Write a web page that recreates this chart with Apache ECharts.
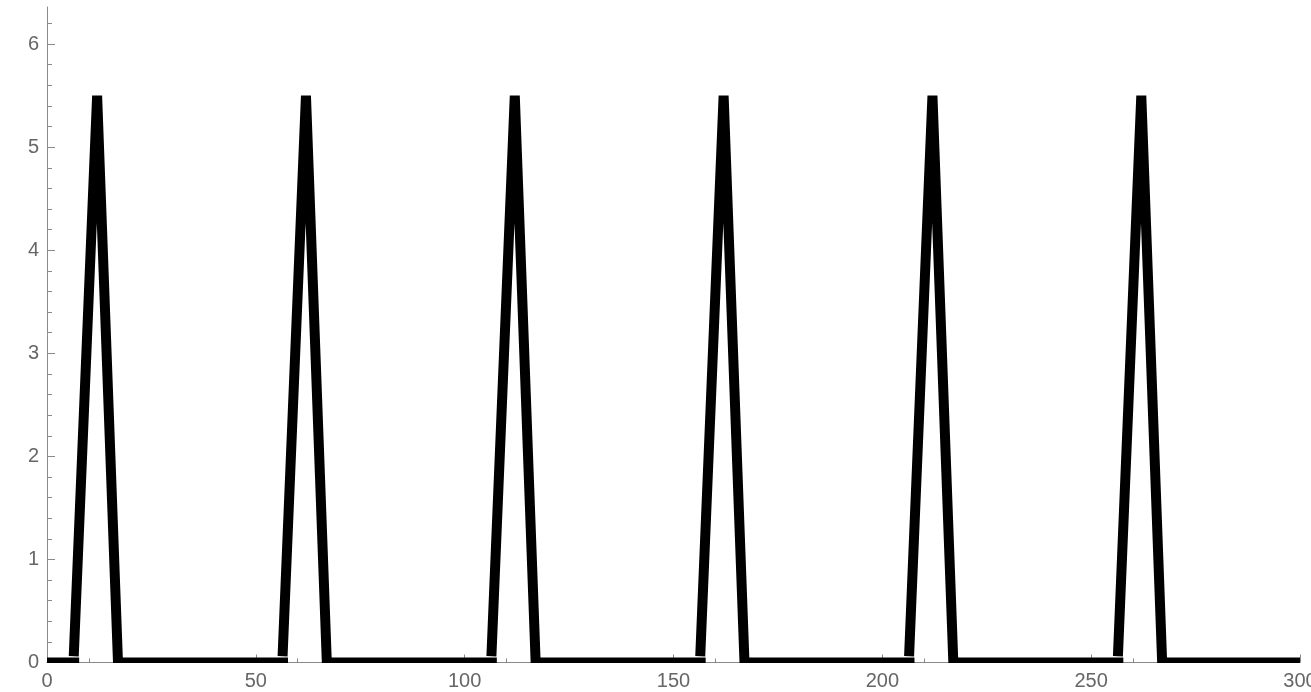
<!DOCTYPE html>
<html>
<head>
<meta charset="utf-8">
<script src="https://cdn.jsdelivr.net/npm/echarts@6/dist/echarts.min.js"></script>
<style>
html,body{margin:0;padding:0;background:#fff;}
#c{width:1311px;height:692px;}
</style>
</head>
<body>
<div id="c"></div>
<script>
// Data (one pulse per period)
var peakX = [12, 62, 112, 162, 212, 262];
var peakY = [5.5, 5.5, 5.5, 5.5, 5.5, 5.5];
var riseStartX = [6.4, 56.4, 106.4, 156.4, 206.4, 256.4];
var riseStartY = [0.06, 0.06, 0.06, 0.06, 0.06, 0.06];
var fallEndX = [17, 67, 117, 167, 217, 267];
var flatEndX = [7.7, 57.7, 107.7, 157.7, 207.7, 257.7];
var xStart = 0, xEnd = 300;
var xTicks = [0, 50, 100, 150, 200, 250, 300];
var yTicks = [0, 1, 2, 3, 4, 5, 6];
var yMinorTicks = [];
for (var i = 0; i < 32; i++) { var v = Math.round(i * 0.2 * 10) / 10; if (Math.abs(v - Math.round(v)) > 1e-6) yMinorTicks.push(v); }

// build polyline with breaks
var data = [[xStart, 0]];
for (var k = 0; k < peakX.length; k++) {
  data.push([flatEndX[k], 0]);
  data.push([flatEndX[k], null]);
  data.push([riseStartX[k], riseStartY[k]]);
  data.push([peakX[k], peakY[k]]);
  data.push([fallEndX[k], 0]);
}
data.push([xEnd, 0]);

var axisColor = '#8a8a8a';
var labelStyle = {color: '#666', fontSize: 20, fontFamily: 'Liberation Sans, Arial, sans-serif'};
var chart = echarts.init(document.getElementById('c'), null, {renderer: 'canvas'});
chart.setOption({
  animation: false,
  grid: {left: 47, top: 7, width: 1253, height: 655.5, containLabel: false, outerBoundsMode: 'none'},
  xAxis: {
    type: 'value', min: 0, max: 300, interval: 50,
    axisLine: {show: true, onZero: false, lineStyle: {color: axisColor, width: 1}},
    axisTick: {show: true, inside: true, length: 8, lineStyle: {color: axisColor}},
    minorTick: {show: true, splitNumber: 5, length: 4, lineStyle: {color: axisColor}},
    splitLine: {show: false},
    axisLabel: Object.assign({margin: 9, customValues: xTicks, hideOverlap: false}, labelStyle)
  },
  yAxis: [{
    type: 'value', min: 0, max: 6.36, interval: 1,
    axisLine: {show: true, onZero: false, lineStyle: {color: axisColor, width: 1}},
    axisTick: {show: true, inside: true, length: 8, customValues: yTicks, lineStyle: {color: axisColor}},
    splitLine: {show: false},
    axisLabel: Object.assign({margin: 8, customValues: yTicks}, labelStyle)
  }, {
    type: 'value', min: 0, max: 6.36, position: 'left', offset: 0,
    axisLine: {show: false},
    axisTick: {show: true, inside: true, length: 5, customValues: yMinorTicks, lineStyle: {color: axisColor}},
    splitLine: {show: false},
    axisLabel: {show: false}
  }],
  graphic: [{
    type: 'rect', z: 100,
    shape: {x: 47, y: 663, width: 1264, height: 6},
    style: {fill: '#fff'}
  }],
  series: [{
    type: 'line', xAxisIndex: 0, yAxisIndex: 0,
    data: data, showSymbol: false, symbol: 'none', connectNulls: false,
    lineStyle: {color: '#000', width: 10, cap: 'butt', join: 'miter', miterLimit: 10},
    z: 3
  }]
});
</script>
</body>
</html>
